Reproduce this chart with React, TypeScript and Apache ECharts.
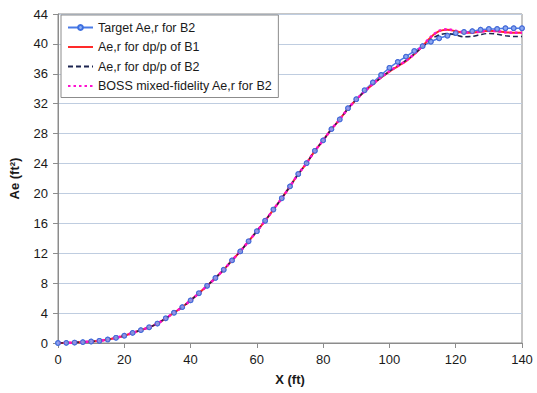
import React, { useEffect, useRef } from "react";
import * as echarts from "echarts";

const xs = [0, 2.5, 5, 7.5, 10, 12.5, 15, 17.5, 20, 22.5, 25, 27.5, 30, 32.5, 35, 37.5, 40, 42.5, 45, 47.5, 50, 52.5, 55, 57.5, 60, 62.5, 65, 67.5, 70, 72.5, 75, 77.5, 80, 82.5, 85, 87.5, 90, 92.5, 95, 97.5, 100, 102.5, 105, 107.5, 110, 112.5, 115, 117.5, 120, 122.5, 125, 127.5, 130, 132.5, 135, 137.5, 140];

const targetB2 = [0, 0.02, 0.06, 0.12, 0.2, 0.3, 0.47, 0.7, 0.98, 1.35, 1.72, 2.1, 2.6, 3.3, 4.05, 4.8, 5.7, 6.65, 7.65, 8.7, 9.8, 11.05, 12.25, 13.6, 14.95, 16.35, 17.85, 19.35, 20.95, 22.6, 24.05, 25.7, 27.1, 28.6, 29.9, 31.4, 32.6, 33.8, 34.85, 35.85, 36.8, 37.6, 38.3, 39.05, 39.7, 40.3, 40.75, 41.1, 41.45, 41.6, 41.7, 41.9, 42.0, 42.0, 42.1, 42.1, 42.1];

const dppB1 = [0, 0.02, 0.06, 0.12, 0.2, 0.3, 0.47, 0.7, 0.98, 1.35, 1.72, 2.1, 2.6, 3.3, 4.05, 4.8, 5.7, 6.65, 7.65, 8.7, 9.8, 11.05, 12.25, 13.6, 14.95, 16.35, 17.85, 19.35, 20.95, 22.6, 24.05, 25.7, 27.1, 28.6, 29.9, 31.35, 32.55, 33.65, 34.6, 35.5, 36.3, 37.0, 37.7, 38.6, 39.7, 40.9, 41.7, 41.9, 41.7, 41.5, 41.5, 41.65, 41.75, 41.7, 41.55, 41.5, 41.5];

const dppB2 = [0, 0.02, 0.06, 0.12, 0.2, 0.3, 0.47, 0.7, 0.98, 1.35, 1.72, 2.1, 2.6, 3.3, 4.05, 4.8, 5.7, 6.65, 7.65, 8.7, 9.8, 11.05, 12.25, 13.6, 14.95, 16.35, 17.85, 19.35, 20.95, 22.6, 24.05, 25.7, 27.1, 28.6, 29.9, 31.35, 32.55, 33.65, 34.6, 35.5, 36.35, 37.05, 37.8, 38.65, 39.6, 40.6, 41.2, 41.4, 41.2, 40.95, 41.0, 41.25, 41.4, 41.3, 41.1, 41.0, 41.0];

const bossB2 = [0, 0.02, 0.06, 0.12, 0.2, 0.3, 0.47, 0.7, 0.98, 1.35, 1.72, 2.1, 2.6, 3.3, 4.05, 4.8, 5.7, 6.65, 7.65, 8.7, 9.8, 11.05, 12.25, 13.6, 14.95, 16.35, 17.85, 19.35, 20.95, 22.6, 24.05, 25.7, 27.1, 28.6, 29.9, 31.35, 32.55, 33.65, 34.65, 35.55, 36.35, 37.05, 37.75, 38.65, 39.75, 40.95, 41.75, 41.95, 41.75, 41.55, 41.5, 41.65, 41.75, 41.7, 41.55, 41.5, 41.5];

const xTicks = [0, 20, 40, 60, 80, 100, 120, 140];
const yTicks = [0, 4, 8, 12, 16, 20, 24, 28, 32, 36, 40, 44];

const names = [
  "Target Ae,r for B2",
  "Ae,r for dp/p of B1",
  "Ae,r for dp/p of B2",
  "BOSS mixed-fidelity Ae,r for B2",
];

const pairs = (ys: number[]) => xs.map((x, i) => [x, ys[i]]);

export default function App() {
  const ref = useRef<HTMLDivElement>(null);
  useEffect(() => {
    if (!ref.current) return;
    const chart = echarts.init(ref.current, null, { renderer: "svg" });
    const font = "Liberation Sans, Arial, sans-serif";
    chart.setOption({
      animation: false,
      backgroundColor: "#ffffff",
      textStyle: { fontFamily: font },
      grid: {
        left: 56,
        right: 15,
        top: 14,
        bottom: 50,
        show: true,
        borderColor: "#8c8c8c",
        borderWidth: 1,
        backgroundColor: "transparent",
      },
      legend: {
        data: [
          { name: names[0] },
          { name: names[1], itemStyle: { opacity: 0 } },
          { name: names[2], itemStyle: { opacity: 0 } },
          { name: names[3], itemStyle: { opacity: 0 } },
        ],
        orient: "vertical",
        left: 61,
        top: 15,
        backgroundColor: "#ffffff",
        borderColor: "#8c8c8c",
        borderWidth: 1,
        borderRadius: 0,
        padding: [6, 6, 5, 6],
        itemWidth: 25,
        itemHeight: 6,
        itemGap: 6.5,
        textStyle: { fontSize: 12.5, color: "#1a1a1a", fontFamily: font },
      },
      xAxis: {
        type: "value",
        min: xTicks[0],
        max: xTicks[xTicks.length - 1],
        interval: 20,
        name: "X (ft)",
        nameLocation: "middle",
        nameGap: 30,
        nameTextStyle: { fontWeight: "bold", fontSize: 13, color: "#1a1a1a" },
        axisLine: { lineStyle: { color: "#8c8c8c" } },
        axisTick: { show: true, length: 5, lineStyle: { color: "#8c8c8c" } },
        axisLabel: { fontSize: 13, color: "#1a1a1a", margin: 10 },
        splitLine: { show: false },
      },
      yAxis: {
        type: "value",
        min: yTicks[0],
        max: yTicks[yTicks.length - 1],
        interval: 4,
        name: "Ae (ft²)",
        nameLocation: "middle",
        nameGap: 37,
        nameTextStyle: { fontWeight: "bold", fontSize: 13, color: "#1a1a1a" },
        axisLine: { show: true, lineStyle: { color: "#8c8c8c" } },
        axisTick: { show: true, length: 5, lineStyle: { color: "#8c8c8c" } },
        axisLabel: { fontSize: 13, color: "#1a1a1a", margin: 10 },
        splitLine: { show: true, lineStyle: { color: "#bfcde0", width: 1 } },
      },
      series: [
        {
          name: names[0],
          type: "line",
          data: pairs(targetB2),
          smooth: 0.3,
          symbol: "circle",
          symbolSize: 4.5,
          showSymbol: true,
          z: 2,
          lineStyle: { color: "#4a7be6", width: 1.5 },
          itemStyle: { color: "#8fb2f5", borderColor: "#3d6fe0", borderWidth: 1.2 },
        },
        {
          name: names[1],
          type: "line",
          data: pairs(dppB1),
          smooth: 0.3,
          showSymbol: false,
          symbol: "none",
          z: 3,
          lineStyle: { color: "#ff2a2a", width: 2 },
          itemStyle: { color: "#ff2a2a" },
        },
        {
          name: names[2],
          type: "line",
          data: pairs(dppB2),
          smooth: 0.3,
          showSymbol: false,
          symbol: "none",
          z: 4,
          lineStyle: { color: "#1c2550", width: 1.5, type: [5, 3] },
          itemStyle: { color: "#1c2550" },
        },
        {
          name: names[3],
          type: "line",
          data: pairs(bossB2),
          smooth: 0.3,
          showSymbol: false,
          symbol: "none",
          z: 5,
          lineStyle: { color: "#ff10d0", width: 2.5, type: [2.5, 3], cap: "butt" },
          itemStyle: { color: "#ff10d0" },
        },
        {
          name: "targetMarkers",
          type: "scatter",
          data: pairs(targetB2),
          symbol: "circle",
          symbolSize: 4.5,
          z: 6,
          itemStyle: { color: "#8aa6f0", borderColor: "#4466d4", borderWidth: 1.1, opacity: 0.85 },
        },
      ],
    });
    return () => chart.dispose();
  }, []);
  return (
    <div
      ref={ref}
      style={{ position: "absolute", left: 0, top: 0, width: 537, height: 393 }}
    />
  );
}
